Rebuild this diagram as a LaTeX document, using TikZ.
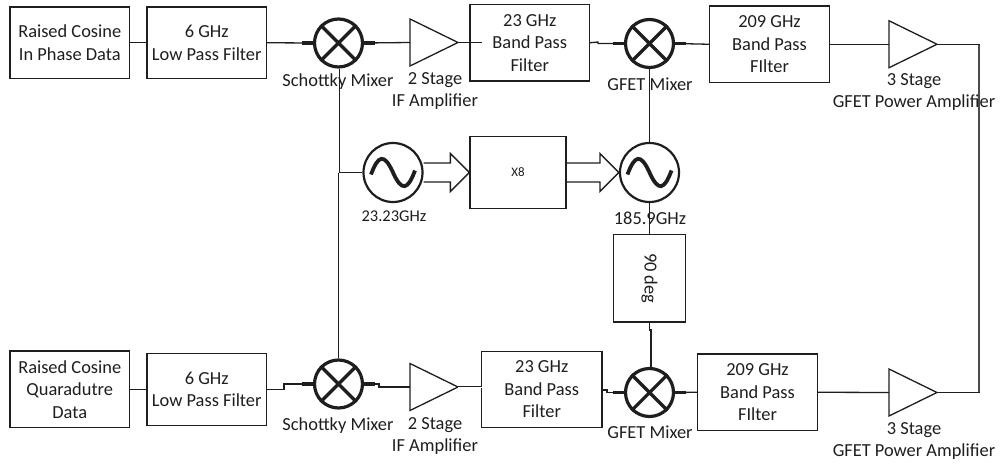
\documentclass[tikz,border=0pt]{standalone}
\usepackage{fontspec}
\setmainfont{Carlito}
\usetikzlibrary{calc}
\definecolor{ink}{HTML}{1E1E1E}
\tikzset{
  x=1pt,y=-1pt,
  wire/.style={draw=ink,line width=1.3pt},
  stub/.style={draw=ink,line width=3.2pt},
  blockbox/.style={draw=ink,line width=1.3pt,rectangle,inner sep=0pt,align=center,text=ink,
    font=\fontsize{18.4}{22.5}\selectfont},
  lbl/.style={inner sep=0pt,align=center,text=ink,font=\fontsize{18.4}{22}\selectfont},
  smalllbl/.style={inner sep=0pt,align=center,text=ink,font=\fontsize{16.5}{18}\selectfont},
  ring/.style={circle,draw=ink,line width=3.2pt,inner sep=0pt},
  oscring/.style={circle,draw=ink,line width=2.2pt,inner sep=0pt,minimum size=59pt},
}
\newcommand{\mixersym}[2]{%
  \node[ring,minimum size=48pt] (#1) at #2 {};
  \draw[stub] (#1.45) -- (#1.225) (#1.135) -- (#1.315);
  \draw[stub] (#1.west) -- ++(-11,0) (#1.east) -- ++(11,0);
}
\newcommand{\oscsym}[2]{%
  \node[oscring] (#1) at #2 {};
  \draw[draw=ink,line width=3.8pt] ($(#1)+(-22,2)$) .. controls +(7,-19) and +(-9,-20) .. ($(#1)+(0,0)$) .. controls +(9,20) and +(-7,19) .. ($(#1)+(22,-2)$);
}
\newcommand{\ampsym}[2]{%
  \coordinate (#1in) at #2;
  \coordinate (#1out) at ($(#1in)+(48,0)$);
  \draw[wire,line join=miter] ($(#1in)+(0,-23.5)$) -- (#1out) -- ($(#1in)+(0,23.5)$) -- cycle;
}
\newcommand{\fatarrow}[2]{% from coordinate #1 (tail centre) to coordinate #2 (tip)
  \draw[wire,line join=miter] ($(#1)+(0,-9.5)$) -- ($(#2)+(-19,-9.5)$) -- ($(#2)+(-19,-19)$) -- (#2)
    -- ($(#2)+(-19,19)$) -- ($(#2)+(-19,9.5)$) -- ($(#1)+(0,9.5)$);
}
\begin{document}
\begin{tikzpicture}
\useasboundingbox (0,0) rectangle (1004,466);

% ---- blocks, top row
\node[blockbox,minimum width=119.5pt,minimum height=71.5pt] (src1) at (69.75,42.75) {Raised Cosine\\In Phase Data};
\node[blockbox,minimum width=119.5pt,minimum height=71.5pt] (lp1) at (206.75,42.75) {6 GHz\\Low Pass Filter};
\node[blockbox,minimum width=119.5pt,minimum height=76.5pt] (bp1) at (529.75,42.75) {23 GHz\\Band Pass\\Filter};
\node[blockbox,minimum width=120pt,minimum height=76.5pt] (rf1) at (769.5,44.25) {209 GHz\\Band Pass\\FIlter};

% ---- blocks, middle
\node[blockbox,minimum width=96pt,minimum height=71.5pt,font=\fontsize{13}{15}\selectfont] (x8) at (518,172.5) {X8};
\node[blockbox,minimum width=72pt,minimum height=87.5pt] (ph) at (649.5,278.25) {\rotatebox{-90}{90 deg}};

% ---- blocks, bottom row
\node[blockbox,minimum width=119.5pt,minimum height=76.5pt] (src2) at (69.75,389.25) {Raised Cosine\\Quaradutre\\Data};
\node[blockbox,minimum width=119.5pt,minimum height=72pt] (lp2) at (206.75,389.25) {6 GHz\\Low Pass Filter};
\node[blockbox,minimum width=120.5pt,minimum height=76.5pt] (bp2) at (541.75,389.5) {23 GHz\\Band Pass\\Filter};
\node[blockbox,minimum width=120pt,minimum height=76.5pt] (rf2) at (757.5,392.25) {209 GHz\\Band Pass\\FIlter};

% ---- symbols
\mixersym{m1}{(338.5,43)}
\mixersym{m2}{(649.5,43.5)}
\mixersym{m3}{(338.5,384)}
\mixersym{m4}{(649.5,392.5)}
\oscsym{o1}{(393,172.5)}
\oscsym{o2}{(649.5,172.5)}
\ampsym{a1}{(410,42.5)}
\ampsym{a2}{(889,44.25)}
\ampsym{a3}{(410,387)}
\ampsym{a4}{(889,392.5)}

% ---- labels
\node[lbl] (t1) at (338,82) {Schottky Mixer};
\node[lbl] (t2) at (435,91) {2 Stage\\IF Amplifier};
\node[lbl] (t3) at (650,84) {GFET Mixer};
\node[lbl] (t4) at (914,92.5) {3 Stage\\GFET Power Amplifier};
\node[smalllbl] (t5) at (394,216) {23.23GHz};
\node[lbl] (t6) at (650,218) {185.9GHz};
\node[lbl] (t7) at (338,425.5) {Schottky Mixer};
\node[lbl] (t8) at (435,436.5) {2 Stage\\IF Amplifier};
\node[lbl] (t9) at (650,432) {GFET Mixer};
\node[lbl] (t10) at (914,441) {3 Stage\\GFET Power Amplifier};

% ---- free ends and bends
\coordinate (bp1in) at (482,42.5);
\coordinate (s1) at (598,42);
\coordinate (s2) at (598,43.5);
\coordinate (j1) at (339.5,172.5);
\coordinate (j2) at (338.5,172.5);
\coordinate (turn) at (979,44.25);
\coordinate (turn2) at (979,392.5);
\coordinate (s3) at (284,389.25);
\coordinate (s4) at (284,384);
\coordinate (s5) at (379,384);
\coordinate (s6) at (379,387);
\coordinate (bp2in) at (482,387);
\coordinate (s7) at (607,392.5);
\coordinate (s8) at (607,390);
\coordinate (s9) at (649.5,330);
\coordinate (s10) at (651,330);
\coordinate (s11) at (651,367);

% ---- connectors, top row
\draw[wire] (src1.east) -- (lp1.west);
\draw[wire] (lp1.east) -- (m1.west);
\draw[wire] (m1.east) -- (a1in);
\draw[wire] (a1out) -- (bp1in);
\draw[wire] (bp1.east) -- (s1) -- (s2) -- (m2.west);
\draw[wire] (m2.east) -- (rf1.west);
\draw[wire] (rf1.east) -- (a2in);
\draw[draw=ink!80,line width=1.9pt] (turn) -- (turn2);
\draw[wire,line cap=rect] (a2out) -- (turn);
\draw[wire,line cap=rect] (a4out) -- (turn2);

% ---- connectors, middle
\draw[wire] (m1.south -| j1) -- (j1);
\draw[wire] (j2) -- (j2 |- m3.north);
\draw[wire] (j2) -- (o1.west);
\draw[wire] (o2.north) -- (m2.south);
\draw[wire] (o2.south) -- (ph.north);
\draw[wire] (ph.south) -- (s9) -- (s10) -- (s11);
\fatarrow{o1.east}{x8.west}
\fatarrow{x8.east}{o2.west}

% ---- connectors, bottom row
\draw[wire] (src2.east) -- (lp2.west);
\draw[wire] (lp2.east) -- (s3) -- (s4) -- (m3.west);
\draw[wire] (m3.east) -- (s5) -- (s6) -- (a3in);
\draw[draw=ink,line width=0.9pt,double=white,double distance=1pt] (a3out) -- (bp2in);
\draw[wire] (bp2.east |- s8) -- (s8) -- (s7) -- (m4.west);
\draw[wire] (m4.east) -- (rf2.west);
\draw[wire] (rf2.east) -- (a4in);
\end{tikzpicture}
\end{document}
